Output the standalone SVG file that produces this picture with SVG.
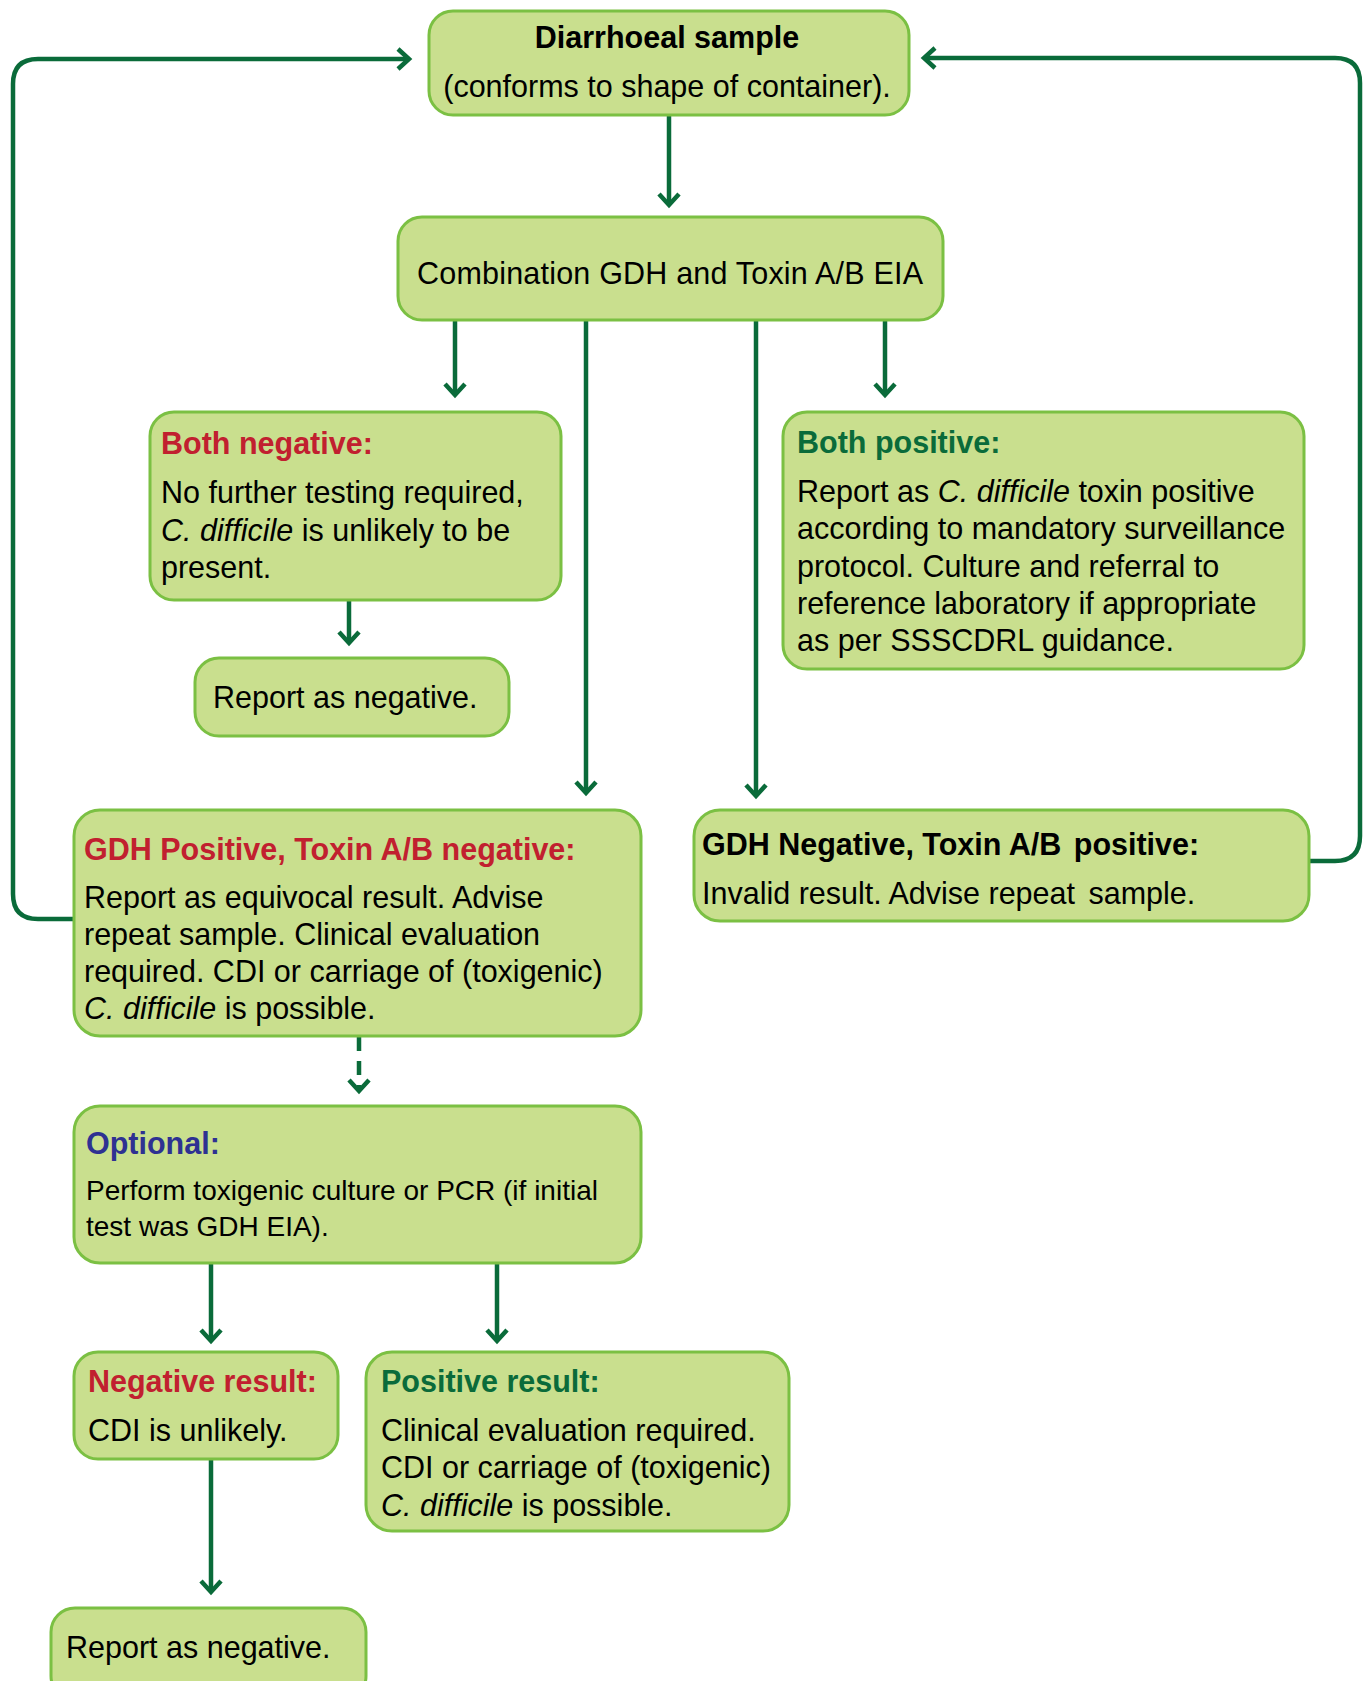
<svg xmlns="http://www.w3.org/2000/svg" width="1370" height="1681" viewBox="0 0 1370 1681">
<style>
.box{fill:#C9DF8E;stroke:#7BC043;stroke-width:3}
.t{font-family:"Liberation Sans",Arial,sans-serif;font-size:30.5px;fill:#000}
.s{font-size:28px}
.b{font-weight:bold}
.i{font-style:italic}
.red{fill:#C1202F}
.grn{fill:#0A6B3A}
.blu{fill:#2E3192}
.c{fill:none;stroke:#0A6B3A;stroke-width:4.5}
.dash{stroke-dasharray:14 10}
</style>
<defs>
<marker id="arr" markerUnits="userSpaceOnUse" viewBox="-15 -13 19 26" refX="0" refY="0" markerWidth="19" markerHeight="26" orient="auto">
<path d="M-11,-10 L0,0 L-11,10" fill="none" stroke="#0A6B3A" stroke-width="4.5"/>
</marker>
</defs>
<rect width="1370" height="1681" fill="#fff"/>
<g id="connectors">
<path class="c" d="M669,115 V205" marker-end="url(#arr)"/>
<path class="c" d="M455,320 V395" marker-end="url(#arr)"/>
<path class="c" d="M586,320 V793" marker-end="url(#arr)"/>
<path class="c" d="M756,320 V796" marker-end="url(#arr)"/>
<path class="c" d="M885,320 V395" marker-end="url(#arr)"/>
<path class="c" d="M349,600 V643" marker-end="url(#arr)"/>
<path class="c" d="M74,919 H38 Q13,919 13,894 V84 Q13,59 38,59 H409" marker-end="url(#arr)"/>
<path class="c" d="M1309,861 H1335 Q1360,861 1360,836 V83 Q1360,58 1335,58 H924" marker-end="url(#arr)"/>
<path class="c dash" d="M359,1037 V1091" marker-end="url(#arr)"/>
<path class="c" d="M211,1263 V1341" marker-end="url(#arr)"/>
<path class="c" d="M497,1263 V1341" marker-end="url(#arr)"/>
<path class="c" d="M211,1459 V1592" marker-end="url(#arr)"/>
</g>
<g id="sample">
<rect class="box" x="429" y="11" width="480" height="104" rx="24"/>
<text class="t b" x="667" y="48" text-anchor="middle">Diarrhoeal sample</text>
<text class="t" x="667" y="97" text-anchor="middle">(conforms to shape of container).</text>
</g>
<g id="combination">
<rect class="box" x="398" y="217" width="545" height="103" rx="24"/>
<text class="t" x="670" y="284" text-anchor="middle" textLength="506">Combination GDH and Toxin A/B EIA</text>
</g>
<g id="both-negative">
<rect class="box" x="150" y="412" width="411" height="188" rx="24"/>
<text class="t b red" x="161" y="454">Both negative:</text>
<text class="t" x="161" y="503">No further testing required,</text>
<text class="t" x="161" y="541"><tspan class="i">C. difficile</tspan> is unlikely to be</text>
<text class="t" x="161" y="578">present.</text>
</g>
<g id="report-negative-1">
<rect class="box" x="195" y="658" width="314" height="78" rx="24"/>
<text class="t" x="213" y="708">Report as negative.</text>
</g>
<g id="both-positive">
<rect class="box" x="783" y="412" width="521" height="257" rx="24"/>
<text class="t b grn" x="797" y="453">Both positive:</text>
<text class="t" x="797" y="502">Report as <tspan class="i">C. difficile</tspan> toxin positive</text>
<text class="t" x="797" y="539">according to mandatory surveillance</text>
<text class="t" x="797" y="577">protocol. Culture and referral to</text>
<text class="t" x="797" y="614">reference laboratory if appropriate</text>
<text class="t" x="797" y="651">as per SSSCDRL guidance.</text>
</g>
<g id="gdh-positive">
<rect class="box" x="74" y="810" width="567" height="226" rx="26"/>
<text class="t b red" x="84" y="860">GDH Positive, Toxin A/B negative:</text>
<text class="t" x="84" y="908">Report as equivocal result. Advise</text>
<text class="t" x="84" y="945">repeat sample. Clinical evaluation</text>
<text class="t" x="84" y="982">required. CDI or carriage of (toxigenic)</text>
<text class="t" x="84" y="1019"><tspan class="i">C. difficile</tspan> is possible.</text>
</g>
<g id="gdh-negative">
<rect class="box" x="694" y="810" width="615" height="111" rx="26"/>
<text class="t b" x="702" y="855">GDH Negative, Toxin A/B <tspan dx="4">positive:</tspan></text>
<text class="t" x="702" y="904">Invalid result. Advise repeat <tspan dx="5">sample.</tspan></text>
</g>
<g id="optional">
<rect class="box" x="74" y="1106" width="567" height="157" rx="26"/>
<text class="t b blu" x="86" y="1154">Optional:</text>
<text class="t s" x="86" y="1200">Perform toxigenic culture or PCR (if initial</text>
<text class="t s" x="86" y="1236">test was GDH EIA).</text>
</g>
<g id="negative-result">
<rect class="box" x="74" y="1352" width="264" height="107" rx="24"/>
<text class="t b red" x="88" y="1392">Negative result:</text>
<text class="t" x="88" y="1441">CDI is unlikely.</text>
</g>
<g id="positive-result">
<rect class="box" x="366" y="1352" width="423" height="179" rx="26"/>
<text class="t b grn" x="381" y="1392">Positive result:</text>
<text class="t" x="381" y="1441">Clinical evaluation required.</text>
<text class="t" x="381" y="1478">CDI or carriage of (toxigenic)</text>
<text class="t" x="381" y="1516"><tspan class="i">C. difficile</tspan> is possible.</text>
</g>
<g id="report-negative-2">
<rect class="box" x="51" y="1608" width="315" height="92" rx="24"/>
<text class="t" x="66" y="1658">Report as negative.</text>
</g>
</svg>
